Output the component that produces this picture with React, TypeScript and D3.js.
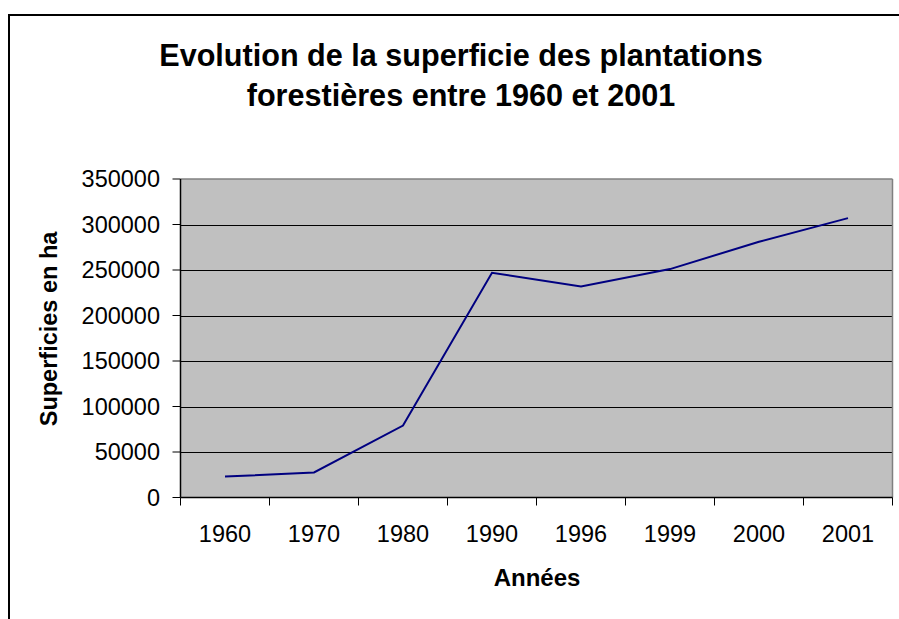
import React from "react";
import * as d3 from "d3";

const categories = ["1960", "1970", "1980", "1990", "1996", "1999", "2000", "2001"];
const values = [23000, 27500, 79000, 247000, 232000, 251000, 281000, 307000];
const yTicks = [0, 50000, 100000, 150000, 200000, 250000, 300000, 350000];
const titleLines = ["Evolution de la superficie des plantations", "forestières entre 1960 et 2001"];
const xTitle = "Années";
const yTitle = "Superficies en ha";

const W = 899;
const H = 619;
const FONT = "Arial, 'Liberation Sans', sans-serif";

export default function App() {
  const left = 180.5, right = 892.5, top = 179, bottom = 497.5;
  const x = d3.scaleBand<string>().domain(categories).range([left, right]);
  const y = d3.scaleLinear().domain([0, 350000]).range([bottom, top]);
  const line = d3
    .line<number>()
    .x((_, i) => (x(categories[i]) as number) + x.bandwidth() / 2)
    .y((d) => y(d));
  const boundaries = categories.map((c) => x(c) as number).concat([right]);

  return (
    <svg
      width={W}
      height={H}
      style={{ position: "absolute", left: 0, top: 0, background: "#fff" }}
      fontFamily={FONT}
    >
      <rect x={9} y={15} width={1000} height={1000} fill="#fff" stroke="#000" strokeWidth={2} />
      {titleLines.map((t, i) => (
        <text
          key={i}
          x={461}
          y={66 + i * 40}
          textAnchor="middle"
          fontSize={30.6}
          fontWeight="bold"
          fill="#000"
        >
          {t}
        </text>
      ))}
      <rect x={left} y={top} width={right - left} height={bottom - top} fill="#C0C0C0" />
      {yTicks.slice(1, -1).map((t) => (
        <line key={t} x1={left} x2={right} y1={Math.round(y(t)) + 0.5} y2={Math.round(y(t)) + 0.5} stroke="#000" strokeWidth={1} />
      ))}
      <line x1={left} x2={right} y1={top} y2={top} stroke="#808080" strokeWidth={1.5} />
      <line x1={right} x2={right} y1={top} y2={bottom} stroke="#808080" strokeWidth={1.5} />
      <path d={line(values) || ""} fill="none" stroke="#000080" strokeWidth={2} />
      <line x1={left} x2={left} y1={top} y2={bottom} stroke="#000" strokeWidth={1.5} />
      <line x1={left} x2={right} y1={bottom} y2={bottom} stroke="#000" strokeWidth={1.5} />
      {yTicks.map((t) => (
        <g key={t}>
          <line x1={left - 8} x2={left} y1={y(t)} y2={y(t)} stroke="#000" strokeWidth={1} />
          <text x={160} y={y(t)} dy="0.35em" textAnchor="end" fontSize={23.5} fill="#000">
            {t}
          </text>
        </g>
      ))}
      {boundaries.map((b, i) => (
        <line key={i} x1={b} x2={b} y1={bottom} y2={bottom + 8} stroke="#000" strokeWidth={1} />
      ))}
      {categories.map((c) => (
        <text
          key={c}
          x={(x(c) as number) + x.bandwidth() / 2}
          y={542}
          textAnchor="middle"
          fontSize={23.5}
          fill="#000"
        >
          {c}
        </text>
      ))}
      <text x={537} y={586} textAnchor="middle" fontSize={24} fontWeight="bold" fill="#000">
        {xTitle}
      </text>
      <text
        transform={`translate(57,329) rotate(-90)`}
        textAnchor="middle"
        fontSize={23.5}
        fontWeight="bold"
        fill="#000"
      >
        {yTitle}
      </text>
    </svg>
  );
}
